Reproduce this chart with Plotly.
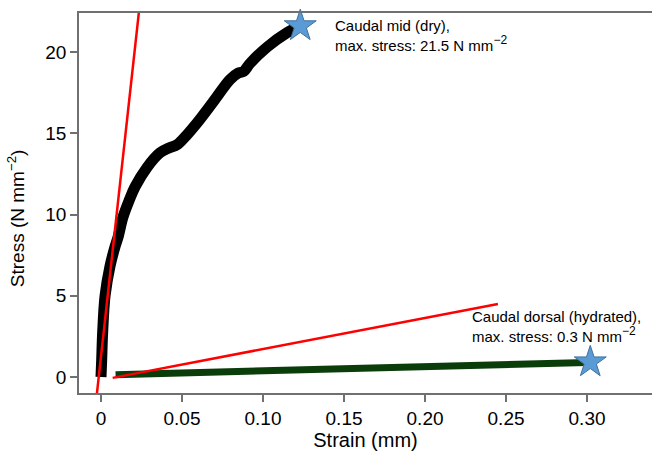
import plotly.graph_objects as go

# Caudal mid (dry) stress-strain curve
dry_strain = [0.0, 0.0004, 0.0010, 0.0025, 0.0055, 0.0086, 0.0105, 0.0136, 0.0175, 0.0210,
              0.0284, 0.0364, 0.0420, 0.0470, 0.0530, 0.0590, 0.0690, 0.0796, 0.0846,
              0.0880, 0.0920, 0.1025, 0.1150, 0.1210]
dry_stress = [0.0, 1.0, 2.7, 5.0, 6.8, 8.0, 8.6, 9.85, 10.9, 11.7,
              12.9, 13.8, 14.1, 14.3, 14.9, 15.6, 16.9, 18.3, 18.7,
              18.8, 19.3, 20.3, 21.2, 21.5]

# Caudal dorsal (hydrated) curve
hyd_strain = [0.009, 0.05, 0.10, 0.15, 0.20, 0.25, 0.30]
hyd_stress = [0.15, 0.26, 0.38, 0.51, 0.64, 0.77, 0.90]

# Fitted linear (modulus) lines
fit_dry_strain = [-0.0035, 0.0240]
fit_dry_stress = [-1.9, 23.0]
fit_hyd_strain = [0.0072, 0.245]
fit_hyd_stress = [-0.05, 4.5]

# Maximum stress markers
max_strain = [0.123, 0.302]
max_stress = [21.6, 0.92]

x_ticks = [0, 0.05, 0.10, 0.15, 0.20, 0.25, 0.30]
x_ticktext = ["0", "0.05", "0.10", "0.15", "0.20", "0.25", "0.30"]
y_ticks = [0, 5, 10, 15, 20]

FONT = "Liberation Sans, Arial, sans-serif"
SUP = "<sup><span style='font-size:12px'>−2</span></sup>"

fig = go.Figure()
fig.add_trace(go.Scatter(x=dry_strain, y=dry_stress, mode="lines",
                         line=dict(color="black", width=11, shape="spline"),
                         showlegend=False))
fig.add_trace(go.Scatter(x=hyd_strain, y=hyd_stress, mode="lines",
                         line=dict(color="#0b3d0b", width=7),
                         showlegend=False))
fig.add_trace(go.Scatter(x=fit_dry_strain, y=fit_dry_stress, mode="lines",
                         line=dict(color="red", width=2.5), showlegend=False))
fig.add_trace(go.Scatter(x=fit_hyd_strain, y=fit_hyd_stress, mode="lines",
                         line=dict(color="red", width=2.5), showlegend=False))
fig.add_trace(go.Scatter(x=max_strain, y=max_stress, mode="markers",
                         marker=dict(symbol="star", size=24, color="#5b9bd5",
                                     line=dict(color="#41719c", width=1)),
                         showlegend=False, cliponaxis=False))

fig.add_annotation(x=0.1435, y=21.0, xanchor="left", yanchor="middle",
                   text="Caudal mid (dry),<br>max. stress: 21.5 N mm" + SUP,
                   showarrow=False, align="left",
                   font=dict(family=FONT, size=15, color="black"))
fig.add_annotation(x=0.2275, y=3.1, xanchor="left", yanchor="middle",
                   text="Caudal dorsal (hydrated),<br>max. stress: 0.3 N mm" + SUP,
                   showarrow=False, align="left",
                   font=dict(family=FONT, size=15, color="black"))
fig.add_annotation(xref="paper", yref="paper", x=-0.11, y=0.46,
                   xanchor="center", yanchor="middle", textangle=-90,
                   text="Stress (N mm<sup>−2</sup>)", showarrow=False,
                   font=dict(family=FONT, size=19, color="black"))

fig.update_layout(
    width=652, height=462,
    margin=dict(l=79, r=0, t=13, b=69),
    paper_bgcolor="white", plot_bgcolor="white",
    font=dict(family=FONT, size=19, color="black"),
    xaxis=dict(range=[-0.01358, 0.3401], tickvals=x_ticks, ticktext=x_ticktext,
               showgrid=False, zeroline=False, showline=True, linecolor="#707070",
               linewidth=1.5, mirror=True, ticks="outside", ticklen=7,
               tickcolor="#707070", tickwidth=1.5,
               title=dict(text="Strain (mm)", standoff=3, font=dict(size=20))),
    yaxis=dict(range=[-0.98, 22.4], tickvals=y_ticks,
               showgrid=False, zeroline=False, showline=True, linecolor="#707070",
               linewidth=1.5, ticks="outside", ticklen=7,
               tickcolor="#707070", tickwidth=1.5),
)

fig.write_html("out.html")
